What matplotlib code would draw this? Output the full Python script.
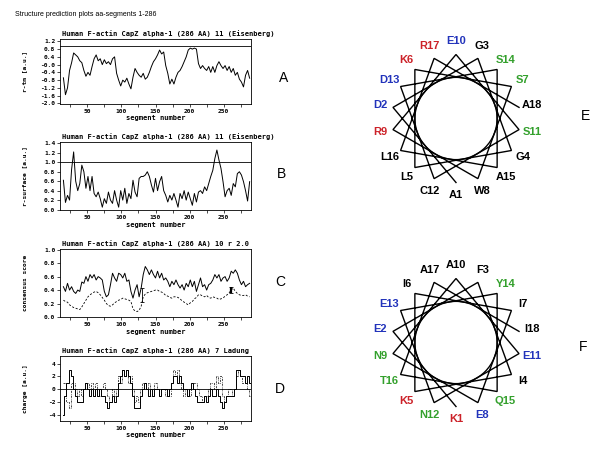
import numpy as np
import matplotlib
matplotlib.use("Agg")
from matplotlib import pyplot as plt
from matplotlib.patches import Circle
from matplotlib.ticker import MultipleLocator, FormatStrFormatter

W, H = 600, 455  # figure size in pixels

# segment positions (every 3rd segment)
seg = np.arange(15, 289, 3)

# panel A: Eisenberg r-tm profile
r_tm = [-0.68, -1.55, -1.2, -0.3, 0.1, 0.6, 0.5, 0.4, 0.2, 0.1,
        -0.3, -0.6, -0.4, -0.55, -0.1, 0.3, 0.5, 0.2, 0.3, 0.0,
        0.25, 0.05, 0.15, 0.0, 0.3, 0.4, -0.45, -0.8, -1.1, -0.8,
        -0.9, -0.7, -1.0, -1.25, -0.65, -0.2, -0.4, -0.55, -0.65, -0.45,
        -0.75, -0.65, -0.4, -0.1, 0.15, 0.3, 0.5, 0.75, 0.55, 0.65,
        -0.05, -0.45, -1.0, -0.75, -1.0, -0.65, -0.4, -0.3, -0.1, 0.15,
        0.4, 0.75, 0.85, 0.8, 0.85, 0.8, 0.05, -0.2, -0.05, -0.2,
        -0.3, -0.1, -0.4, -0.1, -0.4, -0.05, 0.15, -0.05, -0.2, -0.05,
        -0.3, -0.1, -0.4, -0.2, -0.55, -0.4, -0.75, -0.9, -1.15, -0.55,
        -0.3, -0.7]
r_tm_line = 0.97

# panel B: r-surface profile
r_surface = [0.62, 0.15, 0.3, 0.2, 0.85, 1.22, 0.6, 0.4, 0.55, 0.94,
             0.8, 0.45, 0.7, 0.4, 0.7, 0.34, 0.27, 0.37, 0.23, 0.05,
             0.23, 0.13, 0.37, 0.2, 0.13, 0.4, 0.2, 0.05, 0.4, 0.2,
             0.45, 0.13, 0.34, 0.23, 0.62, 0.37, 0.27, 0.66, 0.7, 0.7,
             0.73, 0.8, 0.7, 0.52, 0.37, 0.66, 0.4, 0.59, 0.7, 0.4,
             0.3, 0.16, 0.3, 0.2, 0.34, 0.2, 0.05, 0.34, 0.23, 0.4,
             0.2, 0.37, 0.23, 0.09, 0.34, 0.16, 0.37, 0.4, 0.34, 0.48,
             0.4, 0.55, 0.7, 0.83, 1.08, 1.26, 1.05, 0.87, 0.59, 0.27,
             0.4, 0.45, 0.3, 0.55, 0.48, 0.76, 0.8, 0.73, 0.59, 0.4,
             0.18, 0.59]
r_surface_line = 1.0

# panel C: consensus score (solid) and reference (dashed)
consensus = [0.45, 0.38, 0.5, 0.4, 0.45, 0.38, 0.35, 0.4, 0.38, 0.52,
             0.5, 0.6, 0.53, 0.63, 0.58, 0.63, 0.55, 0.6, 0.58, 0.55,
             0.38, 0.3, 0.33, 0.48, 0.65, 0.58, 0.53, 0.65, 0.63, 0.58,
             0.65, 0.53, 0.55, 0.38, 0.28, 0.4, 0.48, 0.3, 0.43, 0.63,
             0.75, 0.7, 0.63, 0.7, 0.63, 0.58, 0.68, 0.58, 0.65, 0.55,
             0.58, 0.53, 0.45, 0.53, 0.48, 0.55, 0.48, 0.43, 0.48, 0.4,
             0.5, 0.45, 0.55, 0.45, 0.53, 0.38, 0.48, 0.58, 0.45, 0.48,
             0.4, 0.48, 0.5, 0.55, 0.63, 0.58, 0.63, 0.53, 0.58, 0.6,
             0.53, 0.58, 0.68, 0.65, 0.7, 0.65, 0.55, 0.48, 0.53, 0.45,
             0.48, 0.5]
consensus_ref = [0.25, 0.23, 0.22, 0.18, 0.16, 0.14, 0.13, 0.12, 0.11, 0.15,
                 0.2, 0.25, 0.3, 0.33, 0.35, 0.37, 0.38, 0.36, 0.33, 0.29,
                 0.25, 0.2, 0.17, 0.16, 0.18, 0.21, 0.23, 0.25, 0.26, 0.28,
                 0.27, 0.26, 0.25, 0.23, 0.12, 0.09, 0.08, 0.1, 0.16, 0.3,
                 0.34, 0.36, 0.37, 0.38, 0.39, 0.4, 0.4, 0.38, 0.37, 0.35,
                 0.32, 0.31, 0.29, 0.28, 0.3, 0.3, 0.29, 0.27, 0.24, 0.22,
                 0.2, 0.18, 0.21, 0.23, 0.27, 0.29, 0.33, 0.33, 0.31, 0.3,
                 0.32, 0.29, 0.28, 0.3, 0.29, 0.28, 0.26, 0.27, 0.28, 0.31,
                 0.33, 0.36, 0.4, 0.43, 0.38, 0.35, 0.33, 0.32, 0.32, 0.33,
                 0.31, 0.3]
err_seg = [130, 261]
err_lo = [0.23, 0.35]
err_hi = [0.43, 0.45]
err_lw = [0.6, 1.6]

# panel D: charge (solid) and second window (dashed)
charge = [-4, -1, 1, 3, 2, 0, -1, -2, -2, -2,
          0, 1, 0, -1, 0, -1, 0, -1, 0, -1,
          -1, -2, -3, -2, -1, -2, -1, 1, 2, 3,
          2, 3, 2, 1, -1, -3, -3, -3, -1, 0,
          1, 0, -1, 0, -1, 0, 0, -1, 0, 0,
          0, -1, 0, 1, 2, 2, 1, 2, 1, 0,
          0, -1, 0, 1, 0, -1, -2, -2, -2, -1,
          -2, -1, 0, -1, -1, 0, -1, -2, -3, -2,
          -1, -1, -1, -1, 0, 3, 3, 2, 2, 1,
          2, 1]
charge_alt = [1, 1, -2, -3, 1, 1, 0, -1, 0, -1,
              0, 1, 1, 0, 1, -1, 1, 0, -1, 0,
              1, 0, -1, -2, 0, -1, 0, 2, 1, 3,
              2, 3, 1, 2, 0, -2, -1, -2, 0, 1,
              1, 0, 1, -1, 0, 1, 0, -1, 0, 0,
              -1, 0, -1, 1, 3, 2, 3, 1, 0, -1,
              0, 0, -1, 0, 1, 1, 0, -1, -2, -1,
              -1, 0, 1, 1, 0, 2, 1, 2, -1, -2,
              -1, 0, 0, -1, 0, 2, 3, 2, 1, 1,
              0, -1]
charge_line = 0

# helical wheels
wheel_e = ["A1", "D2", "G3", "G4", "L5", "K6", "S7", "W8", "R9", "E10",
           "S11", "C12", "D13", "S14", "A15", "L16", "R17", "A18"]
wheel_f = ["K1", "E2", "F3", "I4", "K5", "I6", "I7", "E8", "N9", "A10",
           "E11", "N12", "E13", "Y14", "Q15", "T16", "A17", "I18"]

MONO = dict(family="DejaVu Sans Mono", weight="bold")
SANS = ["Liberation Sans", "DejaVu Sans"]

fig = plt.figure(figsize=(W / 100, H / 100), dpi=100)
fig.patch.set_facecolor("white")


def px_rect(x0, y0, x1, y1):
    return [x0 / W, 1 - y1 / H, (x1 - x0) / W, (y1 - y0) / H]


def profile_axes(rect, title, ylabel, ylim, ystep, fmt):
    ax = fig.add_axes(rect)
    ax.set_xlim(10, 290)
    ax.set_ylim(*ylim)
    ax.xaxis.set_major_locator(MultipleLocator(50))
    ax.xaxis.set_minor_locator(MultipleLocator(25))
    ax.yaxis.set_major_locator(MultipleLocator(ystep))
    ax.yaxis.set_major_formatter(FormatStrFormatter(fmt))
    ax.tick_params(which="both", direction="out", length=2, width=0.5, pad=1.5)
    for lab in ax.get_xticklabels() + ax.get_yticklabels():
        lab.set_fontsize(4.5)
        lab.set_fontfamily(MONO["family"])
        lab.set_fontweight("bold")
    for sp in ax.spines.values():
        sp.set_linewidth(0.6)
    ax.set_title(title, loc="left", pad=2, fontsize=5, x=0.01, **MONO)
    ax.set_ylabel(ylabel, fontsize=4.5, **MONO)
    ax.yaxis.set_label_coords(-0.17, 0.5)
    ax.set_xlabel("segment number", fontsize=5, **MONO)
    ax.xaxis.set_label_coords(0.5, -0.17)
    return ax


base = "Human F-actin CapZ alpha-1 (286 AA) "

axA = profile_axes(px_rect(60, 39, 251, 104), base + "11 (Eisenberg)",
                   "r-tm [a.u.]", (-2.03, 1.32), 0.4, "%.1f")
axA.set_yticks(np.arange(-2.0, 1.3, 0.4))
axA.plot(seg, r_tm, color="k", lw=0.7)
axA.axhline(r_tm_line, color="k", lw=0.6)

axB = profile_axes(px_rect(60, 142, 251, 210), base + "11 (Eisenberg)",
                   "r-surface [a.u.]", (-0.01, 1.43), 0.2, "%.1f")
axB.plot(seg, r_surface, color="k", lw=0.7)
axB.axhline(r_surface_line, color="k", lw=0.6)

axC = profile_axes(px_rect(60, 249, 251, 317), base + "10 r 2.0",
                   "consensus score", (0, 1.01), 0.2, "%.1f")
axC.plot(seg, consensus, color="k", lw=0.7)
axC.plot(seg, consensus_ref, color="k", lw=0.6, ls=(0, (2.5, 2)))
for xs, lo, hi, lw in zip(err_seg, err_lo, err_hi, err_lw):
    axC.errorbar([xs], [(lo + hi) / 2], yerr=[(hi - lo) / 2], fmt="none",
                 ecolor="k", elinewidth=lw, capsize=1.2, capthick=0.6)

axD = profile_axes(px_rect(60, 356, 251, 421), base + "7 Ladung",
                   "charge [a.u.]", (-5, 5.2), 2, "%d")
axD.plot(seg, charge, color="k", lw=0.7, drawstyle="steps-mid")
axD.plot(seg, charge_alt, color="k", lw=0.5, ls=(0, (3, 1.5, 1, 1.5)),
         drawstyle="steps-mid")
axD.axhline(charge_line, color="k", lw=0.6)

fig.text(15 / W, 1 - 15 / H, "Structure prediction plots aa-segments 1-286",
         fontsize=5, family=SANS, va="center", ha="left")

for letter, (lx, ly) in zip("ABCDEF", [(284, 78), (282, 174), (280, 282),
                                       (280, 389), (585, 116), (583, 347)]):
    fig.text(lx / W, 1 - ly / H, letter, fontsize=10, family=SANS,
             ha="center", va="center")


def res_color(name):
    if name[0] in "KR":
        return "#cc2229"
    if name[0] in "DE":
        return "#2233bb"
    if name[0] in "STNQY":
        return "#33a02c"
    return "black"


def helical_wheel(cx, cy, residues, R=64, RL=77):
    ax = fig.add_axes(px_rect(cx - 130, cy - 110, cx + 130, cy + 110))
    ax.set_xlim(-130, 130)
    ax.set_ylim(-110, 110)
    ax.axis("off")
    ang = np.deg2rad(270 - 100 * np.arange(len(residues)))
    ax.plot(R * np.cos(ang), R * np.sin(ang), color="k", lw=1.0,
            solid_joinstyle="miter")
    ax.add_patch(Circle((0, 0), R * np.cos(np.deg2rad(50)), fill=False,
                        lw=1.0, ec="k"))
    for name, a in zip(residues, ang):
        ax.text(RL * np.cos(a), RL * np.sin(a), name, ha="center",
                va="center", fontsize=8, weight="bold", family=SANS,
                color=res_color(name))
    return ax


helical_wheel(456, 118.5, wheel_e)
helical_wheel(456, 342.5, wheel_f)

fig.savefig("out.png", dpi=100)
